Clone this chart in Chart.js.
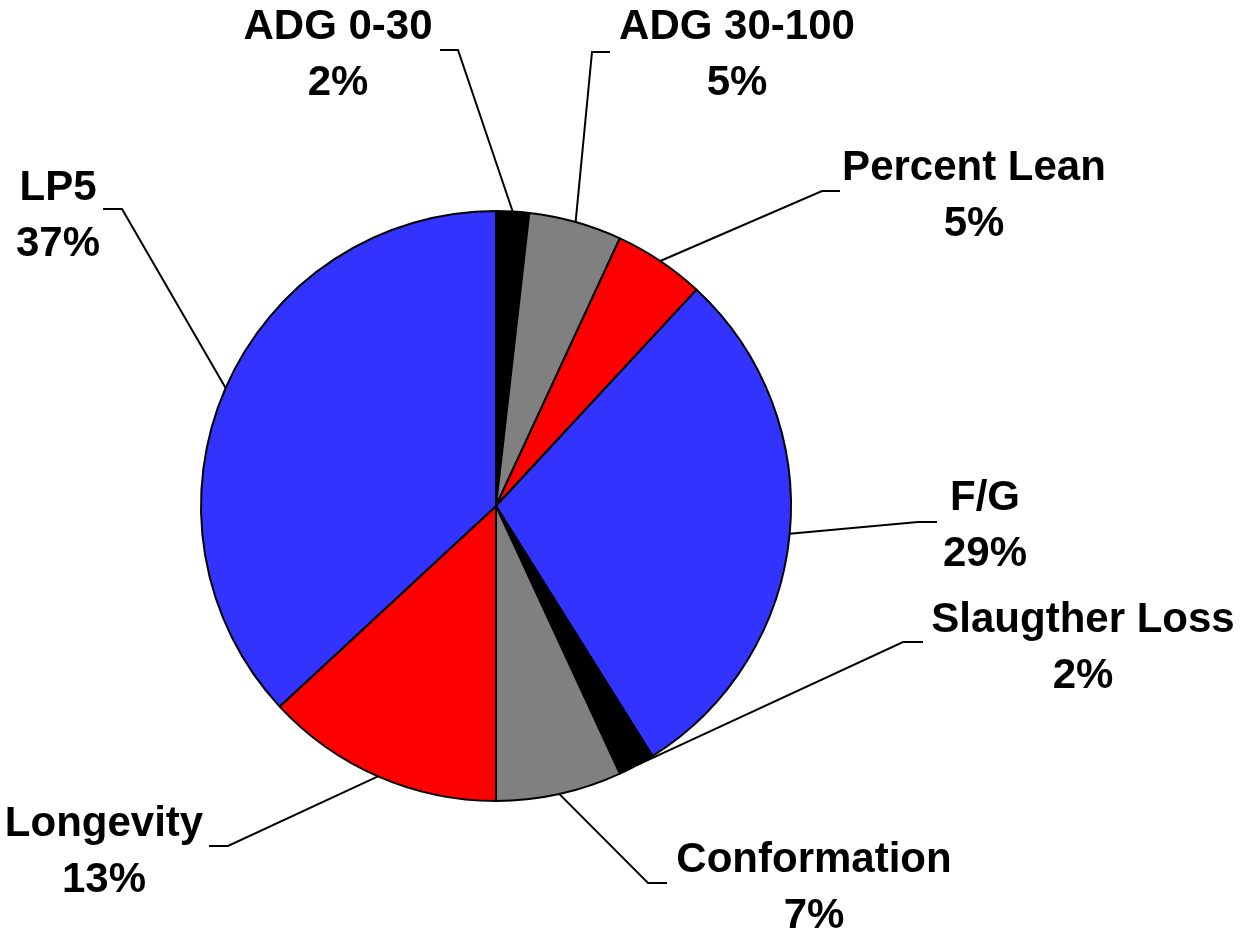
<!DOCTYPE html>
<html>
<head>
<meta charset="utf-8">
<script src="https://cdn.jsdelivr.net/npm/chart.js@4"></script>
<style>
  html, body { margin: 0; padding: 0; background: #fff; }
  #wrap { width: 1243px; height: 932px; position: relative; }
</style>
</head>
<body>
<div id="wrap"><canvas id="pieChart"></canvas></div>
<script>
// Slice data (clockwise from 12 o'clock)
const categories = ["ADG 0-30", "ADG 30-100", "Percent Lean", "F/G", "Slaugther Loss", "Conformation", "Longevity", "LP5"];
const shares = [1.8, 5.1, 5.0, 29.2, 2.0, 6.9, 13.1, 36.9];
const shareLabels = ["2%", "5%", "5%", "29%", "2%", "7%", "13%", "37%"];
const sliceColors = ["#000000", "#808080", "#FF0000", "#3333FF", "#000000", "#808080", "#FF0000", "#3333FF"];

// Where each callout goes: elbow of the leader, end of its short tail, label centre
const calloutLayout = [
  { elbow: [458, 50],  tail: [440, 50],  text: [338, 24] },
  { elbow: [592, 52],  tail: [610, 52],  text: [737, 24] },
  { elbow: [822, 191], tail: [840, 191], text: [974, 165] },
  { elbow: [918, 522], tail: [937, 522], text: [985, 495] },
  { elbow: [903, 642], tail: [923, 642], text: [1083, 617] },
  { elbow: [648, 883], tail: [667, 883], text: [814, 857] },
  { elbow: [228, 846], tail: [209, 846], text: [104, 821] },
  { elbow: [122, 209], tail: [103, 209], text: [58, 185] },
];

const labelFont = "bold 42px 'Liberation Sans', Arial, sans-serif";
const lineGap = 56;

// Draws leader lines and the two-line labels
const calloutPlugin = {
  id: "callouts",
  afterDraw(chart) {
    const ctx = chart.ctx;
    const arcs = chart.getDatasetMeta(0).data;
    ctx.save();
    ctx.strokeStyle = "#000";
    ctx.lineWidth = 2;
    arcs.forEach((arc, i) => {
      const p = arc.getProps(["x", "y", "startAngle", "endAngle", "outerRadius"], true);
      const mid = (p.startAngle + p.endAngle) / 2;
      const sx = p.x + Math.cos(mid) * p.outerRadius;
      const sy = p.y + Math.sin(mid) * p.outerRadius;
      const lay = calloutLayout[i];
      ctx.beginPath();
      ctx.moveTo(sx, sy);
      ctx.lineTo(lay.elbow[0], lay.elbow[1]);
      ctx.lineTo(lay.tail[0], lay.tail[1]);
      ctx.stroke();

      ctx.fillStyle = "#000";
      ctx.font = labelFont;
      ctx.textAlign = "center";
      ctx.textBaseline = "alphabetic";
      // text y is the cap centre; alphabetic baseline sits ~0.36em below it
      const base = lay.text[1] + 15;
      ctx.fillText(categories[i], lay.text[0], base);
      ctx.fillText(shareLabels[i], lay.text[0], base + lineGap);
    });
    ctx.restore();
  }
};

const ctx = document.getElementById("pieChart").getContext("2d");
const pieChart = new Chart(ctx, {
  type: "pie",
  data: {
    labels: categories,
    datasets: [{
      data: shares,
      backgroundColor: sliceColors,
      borderColor: "#000000",
      borderWidth: 2,
    }],
  },
  options: {
    responsive: true,
    maintainAspectRatio: false,
    animation: false,
    layout: {
      padding: { left: 200, right: 451, top: 210, bottom: 130 },
    },
    plugins: {
      legend: { display: false },
      tooltip: { enabled: false },
    },
  },
  plugins: [calloutPlugin],
});
</script>
</body>
</html>
